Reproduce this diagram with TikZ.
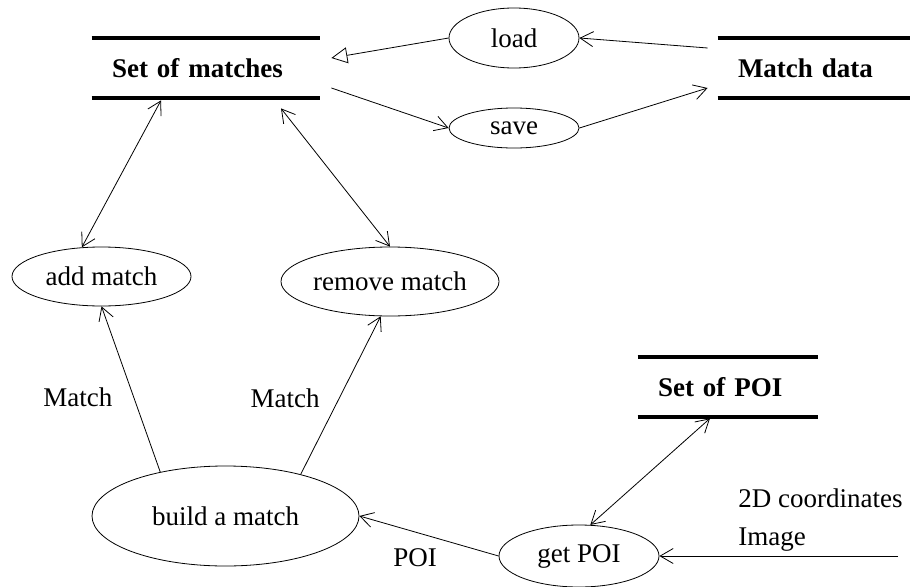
\documentclass[tikz,border=0pt]{standalone}
\usepackage{fontspec}
\setmainfont{Liberation Serif}
\usetikzlibrary{arrows.meta,positioning,shapes.geometric}

\begin{document}
\begin{tikzpicture}[x=1pt,y=-1pt,->,>={Straight Barb[length=13pt,width=15pt]},
                    line width=0.8pt,font=\fontsize{27}{32}\selectfont,
                    proc/.style={ellipse,draw,inner xsep=-30pt,inner ysep=0pt},
                    store/.style={font=\fontsize{27}{32}\selectfont\bfseries,align=left,
                                  inner xsep=20pt,inner ysep=0pt,minimum height=60pt},
                    store line/.style={-,line width=4pt},
                    flow label/.style={inner sep=0pt},
                    open tip/.style={-{Triangle[open,length=16pt,width=16pt]}}]

        \useasboundingbox (0,0) rectangle (912,586);

        % Define stores and processes
        \node[store,text width=188pt] (matches) at (206,68) {Set of matches};
        \node[store,text width=152pt] (data) [node distance=608pt,right of=matches] {Match data};
        \node[proc,minimum width=130pt,minimum height=60pt] (load) [node distance=308pt,right of=matches,yshift=30pt] {load};
        \node[proc,minimum width=130pt,minimum height=40pt] (save) [node distance=90pt,below of=load] {save};
        \node[proc,minimum width=179pt,minimum height=59pt] (add) [node distance=208.5pt,below of=matches,xshift=-104.5pt] {add match};
        \node[proc,minimum width=218pt,minimum height=69pt] (remove) [node distance=288.5pt,right of=add,yshift=-5pt] {remove match};
        \node[proc,minimum width=267pt,minimum height=100pt] (build) [node distance=239.5pt,below of=add,xshift=124pt] {build a match};
        \node[proc,minimum width=160pt,minimum height=62pt] (get) [node distance=353.5pt,right of=build,yshift=-40pt] {get POI};
        \node[store,text width=140pt] (poiset) [node distance=169pt,above of=get,xshift=149pt] {Set of POI};

        % Inputs of get POI
        \coordinate (input) at (898,556);
        \node[flow label,anchor=base west] (coords) at (738,507) {2D coordinates};
        \node[flow label,anchor=base west] (image) at (738,545) {Image};

        % Store lines
        \foreach \s in {matches,data,poiset}
            \draw[store line] (\s.north west) -- (\s.north east)
                              (\s.south west) -- (\s.south east);

        % Draw flows
        \path
            (load.west) edge[open tip] ([xshift=11pt,yshift=10pt]matches.east)
            ([xshift=-10pt,yshift=20pt]data.west) edge (load.east)
            ([xshift=11pt,yshift=-20pt]matches.east) edge (save.west)
            (save.east) edge ([xshift=-10pt,yshift=-20pt]data.west)
            ([xshift=-45pt,yshift=-2pt]matches.south) edge[<->] (add.124)
            ([xshift=75pt,yshift=-10pt]matches.south) edge[<->] (remove.north)
            (build.146) edge node[flow label,pos=0.45,left=21pt] {Match} (add.south)
            (build.29) edge node[flow label,pos=0.48,left=19pt] {Match} (remove.255)
            (get.west) edge node[flow label,pos=0.6,below=16pt] {POI} (build.east)
            ([xshift=-18pt,yshift=-1pt]poiset.south) edge[<->] (get.70)
            (input) edge (get.east);

        \end{tikzpicture}
\end{document}
